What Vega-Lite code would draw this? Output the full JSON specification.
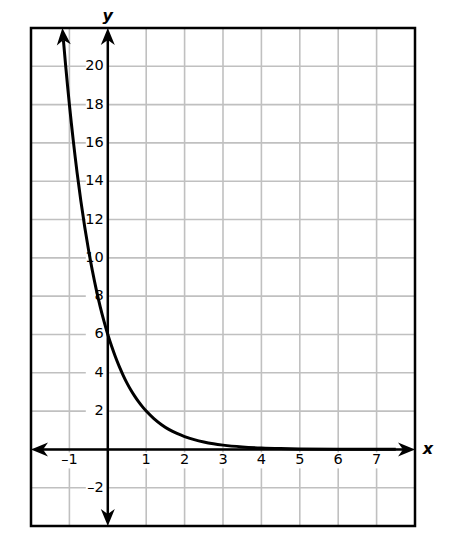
{
  "$schema": "https://vega.github.io/schema/vega-lite/v6.json",
  "width": 384,
  "height": 498,
  "autosize": "none",
  "padding": {"left": 31, "top": 28, "right": 37, "bottom": 22},
  "config": {"view": {"stroke": null}, "font": "DejaVu Sans"},
  "datasets": {
    "curve": [
      {"x": -1.156, "y": 21.37}, {"x": -1.1, "y": 20.09}, {"x": -1.05, "y": 19.02}, {"x": -1.0, "y": 18.0},
      {"x": -0.95, "y": 17.04}, {"x": -0.9, "y": 16.13}, {"x": -0.85, "y": 15.27}, {"x": -0.8, "y": 14.45},
      {"x": -0.7, "y": 12.95}, {"x": -0.6, "y": 11.6}, {"x": -0.5, "y": 10.39}, {"x": -0.4, "y": 9.31},
      {"x": -0.3, "y": 8.34}, {"x": -0.2, "y": 7.47}, {"x": -0.1, "y": 6.7}, {"x": 0.0, "y": 6.0},
      {"x": 0.1, "y": 5.38}, {"x": 0.2, "y": 4.82}, {"x": 0.3, "y": 4.32}, {"x": 0.4, "y": 3.87},
      {"x": 0.5, "y": 3.46}, {"x": 0.6, "y": 3.1}, {"x": 0.7, "y": 2.78}, {"x": 0.8, "y": 2.49},
      {"x": 0.9, "y": 2.23}, {"x": 1.0, "y": 2.0}, {"x": 1.2, "y": 1.61}, {"x": 1.4, "y": 1.29},
      {"x": 1.6, "y": 1.03}, {"x": 1.8, "y": 0.83}, {"x": 2.0, "y": 0.667}, {"x": 2.25, "y": 0.507},
      {"x": 2.5, "y": 0.385}, {"x": 2.75, "y": 0.292}, {"x": 3.0, "y": 0.222}, {"x": 3.5, "y": 0.128},
      {"x": 4.0, "y": 0.074}, {"x": 4.5, "y": 0.043}, {"x": 5.0, "y": 0.025}, {"x": 6.0, "y": 0.008},
      {"x": 7.5, "y": 0.0016}
    ],
    "xgrid": [{"v": -1}, {"v": 0}, {"v": 1}, {"v": 2}, {"v": 3}, {"v": 4}, {"v": 5}, {"v": 6}, {"v": 7}],
    "ygrid": [{"v": -2}, {"v": 0}, {"v": 2}, {"v": 4}, {"v": 6}, {"v": 8}, {"v": 10}, {"v": 12}, {"v": 14}, {"v": 16}, {"v": 18}, {"v": 20}],
    "ylabels": [
      {"v": -2, "t": "–2"}, {"v": 2, "t": "2"}, {"v": 4, "t": "4"}, {"v": 6, "t": "6"}, {"v": 8, "t": "8"},
      {"v": 10, "t": "10"}, {"v": 12, "t": "12"}, {"v": 14, "t": "14"}, {"v": 16, "t": "16"},
      {"v": 18, "t": "18"}, {"v": 20, "t": "20"}
    ],
    "xlabels": [
      {"v": -1, "t": "–1"}, {"v": 1, "t": "1"}, {"v": 2, "t": "2"}, {"v": 3, "t": "3"}, {"v": 4, "t": "4"},
      {"v": 5, "t": "5"}, {"v": 6, "t": "6"}, {"v": 7, "t": "7"}
    ],
    "one": [{"a": 1}],
    "titles": [{"t": "x"}]
  },
  "layer": [
    {
      "data": {"name": "xgrid"},
      "mark": {"type": "rule", "color": "#c0c0c0", "strokeWidth": 1.6},
      "encoding": {
        "x": {"field": "v", "type": "quantitative", "scale": {"domain": [-2, 8], "nice": false, "zero": false}, "axis": null},
        "y": {"datum": -4, "type": "quantitative", "scale": {"domain": [-4, 22], "nice": false, "zero": false}, "axis": null},
        "y2": {"datum": 22}
      }
    },
    {
      "data": {"name": "ygrid"},
      "mark": {"type": "rule", "color": "#c0c0c0", "strokeWidth": 1.6},
      "encoding": {
        "x": {"datum": -2, "type": "quantitative", "scale": {"domain": [-2, 8], "nice": false, "zero": false}, "axis": null},
        "x2": {"datum": 8},
        "y": {"field": "v", "type": "quantitative", "scale": {"domain": [-4, 22], "nice": false, "zero": false}, "axis": null}
      }
    },
    {
      "data": {"name": "ylabels"},
      "mark": {"type": "rect", "color": "white", "xOffset": -22, "x2Offset": 0, "yOffset": -8, "y2Offset": 8},
      "encoding": {
        "x": {"datum": 0, "type": "quantitative", "scale": {"domain": [-2, 8], "nice": false, "zero": false}, "axis": null},
        "x2": {"datum": 0},
        "y": {"field": "v", "type": "quantitative", "scale": {"domain": [-4, 22], "nice": false, "zero": false}, "axis": null},
        "y2": {"field": "v"}
      }
    },
    {
      "data": {"name": "xlabels"},
      "mark": {"type": "rect", "color": "white", "xOffset": -8, "x2Offset": 8, "yOffset": 3, "y2Offset": 19},
      "encoding": {
        "x": {"field": "v", "type": "quantitative", "scale": {"domain": [-2, 8], "nice": false, "zero": false}, "axis": null},
        "x2": {"field": "v"},
        "y": {"datum": 0, "type": "quantitative", "scale": {"domain": [-4, 22], "nice": false, "zero": false}, "axis": null},
        "y2": {"datum": 0}
      }
    },
    {
      "data": {"name": "one"},
      "mark": {"type": "rect", "filled": false, "stroke": "black", "strokeWidth": 2.5},
      "encoding": {
        "x": {"datum": -2, "type": "quantitative", "scale": {"domain": [-2, 8], "nice": false, "zero": false}, "axis": null},
        "x2": {"datum": 8},
        "y": {"datum": -4, "type": "quantitative", "scale": {"domain": [-4, 22], "nice": false, "zero": false}, "axis": null},
        "y2": {"datum": 22}
      }
    },
    {
      "data": {"name": "ylabels"},
      "mark": {"type": "text", "align": "right", "baseline": "middle", "dx": -4, "fontSize": 14.5, "color": "black"},
      "encoding": {
        "x": {"datum": 0, "type": "quantitative", "scale": {"domain": [-2, 8], "nice": false, "zero": false}, "axis": null},
        "y": {"field": "v", "type": "quantitative", "scale": {"domain": [-4, 22], "nice": false, "zero": false}, "axis": null},
        "text": {"field": "t"}
      }
    },
    {
      "data": {"name": "xlabels"},
      "mark": {"type": "text", "align": "center", "baseline": "middle", "dy": 11, "fontSize": 14.5, "color": "black"},
      "encoding": {
        "x": {"field": "v", "type": "quantitative", "scale": {"domain": [-2, 8], "nice": false, "zero": false}, "axis": null},
        "y": {"datum": 0, "type": "quantitative", "scale": {"domain": [-4, 22], "nice": false, "zero": false}, "axis": null},
        "text": {"field": "t"}
      }
    },
    {
      "data": {"name": "one"},
      "mark": {"type": "rule", "color": "black", "strokeWidth": 2.5},
      "encoding": {
        "x": {"datum": 0, "type": "quantitative", "scale": {"domain": [-2, 8], "nice": false, "zero": false}, "axis": null},
        "y": {"datum": -3.37, "type": "quantitative", "scale": {"domain": [-4, 22], "nice": false, "zero": false}, "axis": null},
        "y2": {"datum": 21.37}
      }
    },
    {
      "data": {"name": "one"},
      "mark": {"type": "rule", "color": "black", "strokeWidth": 2.5},
      "encoding": {
        "x": {"datum": -1.69, "type": "quantitative", "scale": {"domain": [-2, 8], "nice": false, "zero": false}, "axis": null},
        "x2": {"datum": 7.69},
        "y": {"datum": 0, "type": "quantitative", "scale": {"domain": [-4, 22], "nice": false, "zero": false}, "axis": null}
      }
    },
    {
      "data": {"name": "curve"},
      "mark": {"type": "line", "color": "black", "strokeWidth": 3, "interpolate": "monotone"},
      "encoding": {
        "x": {"field": "x", "type": "quantitative", "scale": {"domain": [-2, 8], "nice": false, "zero": false}, "axis": null},
        "y": {"field": "y", "type": "quantitative", "scale": {"domain": [-4, 22], "nice": false, "zero": false}, "axis": null}
      }
    },
    {
      "data": {"values": [{"x": 0, "y": 22}]},
      "mark": {"type": "point", "shape": "M0,0L0.7,1.7L0,1.2L-0.7,1.7Z", "filled": true, "color": "black", "opacity": 1, "size": 400, "angle": 0, "strokeWidth": 0},
      "encoding": {
        "x": {"field": "x", "type": "quantitative", "scale": {"domain": [-2, 8], "nice": false, "zero": false}, "axis": null},
        "y": {"field": "y", "type": "quantitative", "scale": {"domain": [-4, 22], "nice": false, "zero": false}, "axis": null}
      }
    },
    {
      "data": {"values": [{"x": 0, "y": -4}]},
      "mark": {"type": "point", "shape": "M0,0L0.7,1.7L0,1.2L-0.7,1.7Z", "filled": true, "color": "black", "opacity": 1, "size": 400, "angle": 180, "strokeWidth": 0},
      "encoding": {
        "x": {"field": "x", "type": "quantitative", "scale": {"domain": [-2, 8], "nice": false, "zero": false}, "axis": null},
        "y": {"field": "y", "type": "quantitative", "scale": {"domain": [-4, 22], "nice": false, "zero": false}, "axis": null}
      }
    },
    {
      "data": {"values": [{"x": 8, "y": 0}]},
      "mark": {"type": "point", "shape": "M0,0L0.7,1.7L0,1.2L-0.7,1.7Z", "filled": true, "color": "black", "opacity": 1, "size": 400, "angle": 90, "strokeWidth": 0},
      "encoding": {
        "x": {"field": "x", "type": "quantitative", "scale": {"domain": [-2, 8], "nice": false, "zero": false}, "axis": null},
        "y": {"field": "y", "type": "quantitative", "scale": {"domain": [-4, 22], "nice": false, "zero": false}, "axis": null}
      }
    },
    {
      "data": {"values": [{"x": -2, "y": 0}]},
      "mark": {"type": "point", "shape": "M0,0L0.7,1.7L0,1.2L-0.7,1.7Z", "filled": true, "color": "black", "opacity": 1, "size": 400, "angle": 270, "strokeWidth": 0},
      "encoding": {
        "x": {"field": "x", "type": "quantitative", "scale": {"domain": [-2, 8], "nice": false, "zero": false}, "axis": null},
        "y": {"field": "y", "type": "quantitative", "scale": {"domain": [-4, 22], "nice": false, "zero": false}, "axis": null}
      }
    },
    {
      "data": {"values": [{"x": -1.183, "y": 22}]},
      "mark": {"type": "point", "shape": "M0,0L0.7,1.7L0,1.2L-0.7,1.7Z", "filled": true, "color": "black", "opacity": 1, "size": 400, "angle": 355.2, "strokeWidth": 0},
      "encoding": {
        "x": {"field": "x", "type": "quantitative", "scale": {"domain": [-2, 8], "nice": false, "zero": false}, "axis": null},
        "y": {"field": "y", "type": "quantitative", "scale": {"domain": [-4, 22], "nice": false, "zero": false}, "axis": null}
      }
    },
    {
      "data": {"name": "titles"},
      "mark": {"type": "text", "align": "center", "baseline": "middle", "dx": 13, "fontSize": 16, "fontWeight": "bold", "fontStyle": "italic", "color": "black"},
      "encoding": {
        "x": {"datum": 8, "type": "quantitative", "scale": {"domain": [-2, 8], "nice": false, "zero": false}, "axis": null},
        "y": {"datum": 0, "type": "quantitative", "scale": {"domain": [-4, 22], "nice": false, "zero": false}, "axis": null},
        "text": {"value": "x"}
      }
    },
    {
      "data": {"name": "titles"},
      "mark": {"type": "text", "align": "center", "baseline": "middle", "dy": -12, "fontSize": 16, "fontWeight": "bold", "fontStyle": "italic", "color": "black"},
      "encoding": {
        "x": {"datum": 0, "type": "quantitative", "scale": {"domain": [-2, 8], "nice": false, "zero": false}, "axis": null},
        "y": {"datum": 22, "type": "quantitative", "scale": {"domain": [-4, 22], "nice": false, "zero": false}, "axis": null},
        "text": {"value": "y"}
      }
    }
  ]
}
